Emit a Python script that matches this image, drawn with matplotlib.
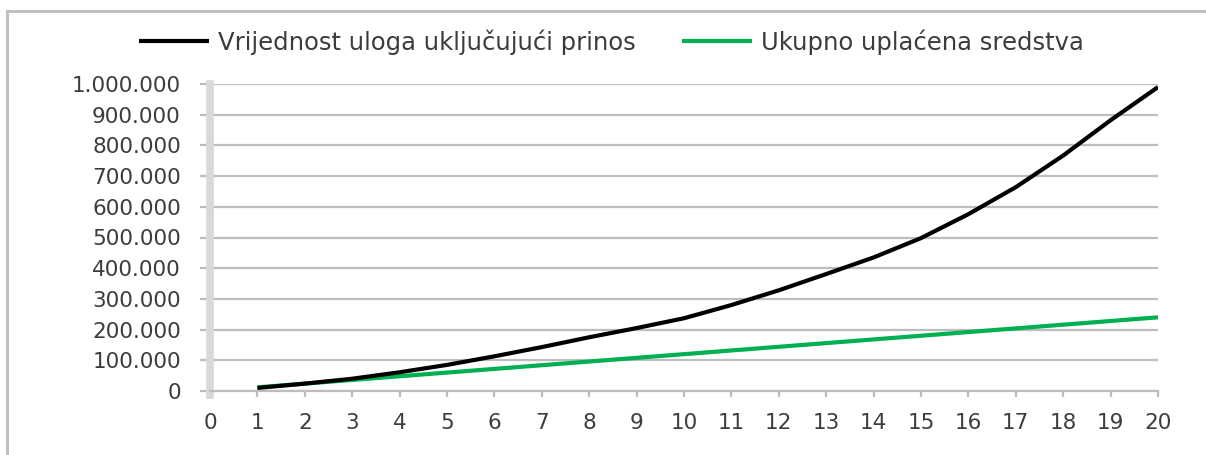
import matplotlib
matplotlib.use("Agg")
import matplotlib.pyplot as plt
from matplotlib.lines import Line2D

years = list(range(1, 21))
value_with_return = [10000, 24000, 40000, 61000, 85000, 113000, 143000, 175000, 205000, 237000,
                     280000, 328000, 381000, 435000, 498000, 576000, 664000, 767000, 882000, 990000]
total_paid = [12000, 24000, 36000, 48000, 60000, 72000, 84000, 96000, 108000, 120000,
              132000, 144000, 156000, 168000, 180000, 192000, 204000, 216000, 228000, 240000]
series_labels = ["Vrijednost uloga uključujući prinos", "Ukupno uplaćena sredstva"]
xticks = list(range(0, 21))
yticks = [0, 100000, 200000, 300000, 400000, 500000, 600000, 700000, 800000, 900000, 1000000]
ytick_labels = ["0", "100.000", "200.000", "300.000", "400.000", "500.000",
                "600.000", "700.000", "800.000", "900.000", "1.000.000"]

W, H = 1206, 455
fig = plt.figure(figsize=(W / 100, H / 100), dpi=100)
fig.patch.set_facecolor("white")

# outer chart border (top and left visible)
fig.add_artist(Line2D([7 / W, 7 / W], [0, 1 - 11 / H], color="#c0c0c0", lw=2.2, transform=fig.transFigure))
fig.add_artist(Line2D([7 / W, 1.0], [1 - 11 / H, 1 - 11 / H], color="#c0c0c0", lw=2.2, transform=fig.transFigure))

left, right = 210 / W, 1158 / W
bottom, top = 1 - 391 / H, 1 - 84 / H
ax = fig.add_axes([left, bottom, right - left, top - bottom])

grid_col = "#bdbdbd"
text_col = "#3c3c3c"

ax.plot(years, value_with_return, color="#000000", lw=3.0, label=series_labels[0], zorder=4,
        solid_capstyle="butt", solid_joinstyle="round")
ax.plot(years, total_paid, color="#00b050", lw=3.0, label=series_labels[1], zorder=3,
        solid_capstyle="butt", solid_joinstyle="round")

ax.set_xlim(0, 20)
ax.set_ylim(0, 1000000)
ax.set_xticks(xticks)
ax.set_xticklabels([str(t) for t in xticks])
ax.set_yticks(yticks)
ax.set_yticklabels(ytick_labels)

ax.yaxis.grid(True, color=grid_col, lw=1.6)
ax.set_axisbelow(True)

for s in ["top", "right"]:
    ax.spines[s].set_visible(False)
ax.spines["left"].set_color("#d9d9d9")
ax.spines["left"].set_linewidth(5.5)
ax.spines["left"].set_bounds(-12000, 1000000)
ax.spines["bottom"].set_color(grid_col)
ax.spines["bottom"].set_linewidth(1.6)

ax.tick_params(axis="y", direction="out", length=7, width=1.6, color=grid_col,
               labelsize=15.5, labelcolor=text_col, pad=14)
ax.tick_params(axis="x", direction="out", length=4, width=1.6, color=grid_col,
               labelsize=15.5, labelcolor=text_col, pad=12)

fig.legend(loc="center", bbox_to_anchor=(611 / W, 1 - 42 / H), ncol=2, frameon=False,
           fontsize=17.5, handlelength=2.9, handletextpad=0.35, columnspacing=1.9,
           labelcolor=text_col)

fig.savefig("out.png", dpi=100, facecolor="white")
